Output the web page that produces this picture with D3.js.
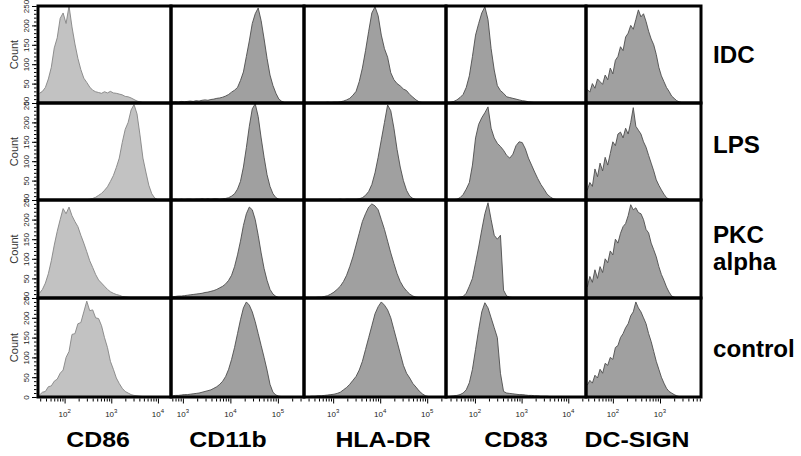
<!DOCTYPE html>
<html>
<head>
<meta charset="utf-8">
<script src="https://cdn.jsdelivr.net/npm/d3@7"></script>
<style>
    body { margin: 0; background: #fff; }
    svg { display: block; font-family: "Liberation Sans", Arial, sans-serif; }
</style>
</head>
<body>
<div id="flow_viz"></div>
<script>

// 1. Data

const markers = ["CD86", "CD11b", "HLA-DR", "CD83", "DC-SIGN"];
const conditions = [["IDC"], ["LPS"], ["PKC", "alpha"], ["control"]];

// log10 range of each marker's channel
const logRanges = [[1.43, 4.28], [2.75, 5.55], [2.38, 5.4], [1.38, 4.38], [1.43, 3.87]];
const countTicks = [0, 50, 100, 150, 200, 250];
const countMax = 250;

// 45 channels per histogram, counts
const idcCD86  = [25,30,40,62,92,142,168,218,232,205,250,196,152,115,86,64,53,41,33,29,27,25,29,26,30,26,25,23,21,17,16,13,9,5,3,1,0,0,0,0,0,0,0,0,0];
const lpsCD86  = [0,0,0,0,0,0,0,0,0,0,0,0,0,0,0,1,1,2,4,7,12,17,25,34,48,63,84,108,148,182,200,232,246,222,168,108,72,38,16,5,1,0,0,0,0];
const pkcCD86  = [12,22,38,62,95,135,170,200,228,215,232,210,195,182,160,140,118,95,78,60,46,38,30,22,16,12,9,7,4,3,2,1,0,0,0,0,0,0,0,0,0,0,0,0,0];
const ctrlCD86 = [5,12,14,26,28,40,45,60,68,100,115,158,160,185,188,215,242,218,220,200,198,180,150,125,90,70,48,34,22,14,10,6,4,3,2,1,1,1,0,0,0,0,0,0,0];

const idcCD11b  = [2,3,2,4,3,4,5,4,6,5,7,8,7,9,10,12,13,15,18,22,28,33,40,58,80,120,160,205,230,245,212,165,115,72,45,25,10,4,1,0,0,0,0,0,0];
const lpsCD11b  = [1,2,1,2,1,2,2,1,2,2,3,2,3,2,3,3,2,3,4,6,10,16,28,48,85,135,190,235,248,215,160,110,65,35,16,6,2,0,0,0,0,0,0,0,0];
const pkcCD11b  = [3,4,5,5,6,7,8,9,10,11,12,14,15,17,19,22,26,30,36,45,58,80,110,145,185,215,232,225,200,160,115,75,45,22,10,4,1,0,0,0,0,0,0,0,0];
const ctrlCD11b = [3,4,4,5,6,6,7,8,9,10,12,14,16,18,22,26,32,40,52,70,95,125,160,195,225,240,232,215,190,160,130,100,68,32,12,5,2,1,0,0,0,0,0,0,0];

const idcHLA  = [0,0,1,0,1,1,1,2,1,2,2,3,5,8,12,20,30,55,90,135,185,232,248,225,175,140,118,78,60,50,44,36,32,22,15,8,3,1,0,0,0,0,0,0,0];
const lpsHLA  = [0,0,0,1,0,1,1,0,1,1,1,2,1,2,2,2,2,3,6,12,22,40,70,110,155,200,245,230,185,130,85,50,25,10,4,1,0,0,0,0,0,0,0,0,0];
const pkcHLA  = [0,0,1,1,2,2,4,6,10,15,22,30,42,58,80,105,135,165,195,215,232,240,235,225,200,175,145,115,88,62,42,28,18,10,5,2,1,0,0,0,0,0,0,0,0];
const ctrlHLA = [1,1,2,2,3,3,4,5,6,7,9,12,18,24,32,42,52,68,90,120,150,180,210,228,240,232,220,200,170,140,110,80,60,48,34,25,15,8,3,1,0,0,0,0,0];

const idcCD83  = [1,2,4,8,14,22,40,70,120,175,205,232,248,215,140,85,45,32,25,16,14,12,10,8,6,5,3,2,1,1,0,0,0,0,0,0,0,0,0,0,0,0,0,0,0];
const lpsCD83  = [0,0,1,2,6,14,28,45,90,160,195,212,225,240,185,160,146,138,128,115,108,118,140,150,148,132,108,90,72,55,40,28,15,8,3,1,0,0,0,0,0,0,0,0,0];
const pkcCD83  = [0,0,0,1,2,4,12,30,50,90,130,174,215,243,200,160,150,160,20,5,2,1,1,0,0,0,0,0,0,0,0,0,0,0,0,0,0,0,0,0,0,0,0,0,0];
const ctrlCD83 = [1,2,3,4,6,10,18,36,70,120,170,215,238,225,200,175,150,60,14,10,9,8,7,6,6,5,4,4,3,3,2,2,2,1,1,1,0,0,0,0,0,0,0,0,0];

const idcDCS  = [35,28,50,38,62,55,48,72,60,90,75,110,120,145,135,170,180,200,190,215,240,222,230,210,185,165,150,125,92,70,55,40,30,18,12,6,3,1,0,0,0,0,0,0,0];
const lpsDCS  = [25,45,35,80,60,95,75,110,90,120,150,140,170,175,160,185,170,200,238,190,180,170,150,136,115,95,75,52,38,26,15,6,2,0,0,0,0,0,0,0,0,0,0,0,0];
const pkcDCS  = [28,55,40,72,50,80,65,100,90,120,110,150,140,165,182,190,210,238,225,230,218,215,200,175,166,140,123,105,80,60,45,28,15,5,2,0,0,0,0,0,0,0,0,0,0];
const ctrlDCS = [30,42,35,55,48,70,60,85,80,100,95,125,130,150,160,175,185,205,215,240,225,215,200,185,160,140,115,90,70,50,35,22,14,10,6,3,1,0,0,0,0,0,0,0,0];

// rows = conditions, columns = markers
const histograms = [
    [idcCD86, idcCD11b, idcHLA, idcCD83, idcDCS],
    [lpsCD86, lpsCD11b, lpsHLA, lpsCD83, lpsDCS],
    [pkcCD86, pkcCD11b, pkcHLA, pkcCD83, pkcDCS],
    [ctrlCD86, ctrlCD11b, ctrlHLA, ctrlCD83, ctrlDCS],
];

// 2. Dimensions

const dimensions = {
    width: 801,
    height: 456,
    colEdges: [38, 171, 304, 446, 586, 701],
    rowEdges: [6, 103, 200, 298, 397],
    markerLabelX: [98, 228, 383, 516, 637],
    markerLabelY: 447,
    conditionLabelX: 713,
    conditionLabelY: [[63], [153], [243, 270], [357]],
}

// 3. Draw canvas

const svg = d3.select("#flow_viz")
    .append("svg")
        .attr("width", dimensions.width)
        .attr("height", dimensions.height)

const defs = svg.append("defs")

// 4. Scales

const xScales = markers.map((m, c) => d3.scaleLog()
    .domain([10 ** logRanges[c][0], 10 ** logRanges[c][1]])
    .range([dimensions.colEdges[c], dimensions.colEdges[c + 1]]))

const yScales = conditions.map((cond, r) => d3.scaleLinear()
    .domain([0, countMax])
    .range([dimensions.rowEdges[r + 1], dimensions.rowEdges[r]]))

const lightCol = {fill: "#c2c2c2", line: "#858585"}
const darkCol = {fill: "#a0a0a0", line: "#4d4d4d"}

// 5. Histograms

const panels = svg.append("g")

histograms.forEach((row, r) => {
    row.forEach((counts, c) => {
        const x = xScales[c], y = yScales[r]
        const [lo, hi] = logRanges[c]
        const step = (hi - lo) / counts.length
        const chan = i => 10 ** (lo + (i + 0.5) * step)
        const id = `clip-${r}-${c}`

        defs.append("clipPath").attr("id", id)
            .append("rect")
                .attr("x", dimensions.colEdges[c])
                .attr("y", dimensions.rowEdges[r])
                .attr("width", dimensions.colEdges[c + 1] - dimensions.colEdges[c])
                .attr("height", dimensions.rowEdges[r + 1] - dimensions.rowEdges[r])

        const col = c === 0 ? lightCol : darkCol
        const g = panels.append("g").attr("clip-path", `url(#${id})`)

        g.append("path")
            .datum(counts)
            .attr("d", d3.area()
                .x((d, i) => x(chan(i)))
                .y0(y(0))
                .y1(d => y(d)))
            .attr("fill", col.fill)

        g.append("path")
            .datum(counts)
            .attr("d", d3.line()
                .x((d, i) => x(chan(i)))
                .y(d => y(d)))
            .attr("fill", "none")
            .attr("stroke", col.line)
            .attr("stroke-width", 0.9)
    })
})

// 6. Panel borders

conditions.forEach((cond, r) => {
    markers.forEach((m, c) => {
        svg.append("rect")
            .attr("x", dimensions.colEdges[c])
            .attr("y", dimensions.rowEdges[r])
            .attr("width", dimensions.colEdges[c + 1] - dimensions.colEdges[c])
            .attr("height", dimensions.rowEdges[r + 1] - dimensions.rowEdges[r])
            .attr("fill", "none")
            .attr("stroke", "#000")
            .attr("stroke-width", 3)
    })
})

// 7. Count axes (one per row)

yScales.forEach((y, r) => {
    const axisG = svg.append("g")
        .attr("transform", `translate(${dimensions.colEdges[0] - 1.5},0)`)

    axisG.append("g")
        .call(d3.axisLeft(y).tickValues(d3.range(0, countMax + 1, 10)).tickSize(2.5).tickFormat(""))
        .call(g => g.select(".domain").remove())

    axisG.append("g")
        .call(d3.axisLeft(y).tickValues(countTicks).tickSize(4.5))
        .call(g => g.select(".domain").remove())
        .call(g => g.selectAll("text")
            .attr("x", null)
            .attr("dy", null)
            .attr("text-anchor", "middle")
            .attr("font-size", 8)
            .attr("font-family", "Liberation Sans, Arial, sans-serif")
            .attr("fill", "#222")
            .attr("transform", "translate(-8,0) rotate(-90)"))

    const mid = (dimensions.rowEdges[r] + dimensions.rowEdges[r + 1]) / 2
    svg.append("text")
        .attr("transform", `translate(18,${mid}) rotate(-90)`)
        .attr("text-anchor", "middle")
        .attr("font-size", 11)
        .attr("fill", "#333")
        .text("Count")
})

// 8. Fluorescence axes (bottom row only)

const bottom = dimensions.rowEdges[dimensions.rowEdges.length - 1] + 1.5

xScales.forEach((x, c) => {
    const allTicks = x.ticks().filter(t => x(t) >= dimensions.colEdges[c] + 1 && x(t) <= dimensions.colEdges[c + 1] - 1)
    const isDecade = t => Math.abs(Math.log10(t) - Math.round(Math.log10(t))) < 1e-9
    const decades = allTicks.filter(isDecade)
    const minors = allTicks.filter(t => !isDecade(t))

    const axisG = svg.append("g").attr("transform", `translate(0,${bottom})`)

    axisG.append("g")
        .call(d3.axisBottom(x).tickValues(minors).tickSize(3).tickFormat(""))
        .call(g => g.select(".domain").remove())

    axisG.append("g")
        .call(d3.axisBottom(x).tickValues(decades).tickSize(5).tickFormat(""))
        .call(g => g.select(".domain").remove())

    const labels = axisG.selectAll(".decade-label")
        .data(decades)
        .join("text")
            .attr("class", "decade-label")
            .attr("x", d => x(d))
            .attr("y", 18)
            .attr("text-anchor", "middle")
            .attr("font-size", 8)
            .attr("fill", "#222")

    labels.append("tspan").text("10")
    labels.append("tspan")
        .attr("font-size", 6)
        .attr("dy", -4)
        .text(d => Math.round(Math.log10(d)))
})

// 9. Marker and condition labels

markers.forEach((m, c) => {
    svg.append("g")
        .attr("transform", `translate(${dimensions.markerLabelX[c]},${dimensions.markerLabelY}) scale(1.13,1)`)
        .append("text")
            .attr("text-anchor", "middle")
            .attr("font-size", 22)
            .attr("font-weight", "bold")
            .attr("fill", "#000")
            .text(m)
})

conditions.forEach((lines, r) => {
    lines.forEach((line, k) => {
        svg.append("g")
            .attr("transform", `translate(${dimensions.conditionLabelX},${dimensions.conditionLabelY[r][k]}) scale(1.05,1)`)
            .append("text")
                .attr("font-size", 23)
                .attr("font-weight", "bold")
                .attr("fill", "#000")
                .text(line)
    })
})

</script>
</body>
</html>
